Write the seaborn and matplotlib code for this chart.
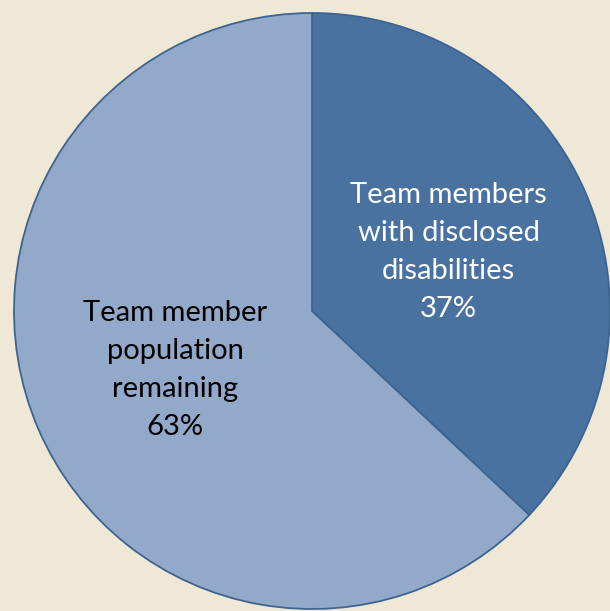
# Pie chart of team member disclosure share
import matplotlib
matplotlib.use("Agg")
import matplotlib.pyplot as plt
import seaborn as sns

sns.set_style("white")
plt.rcParams['font.family'] = ['Lato', 'DejaVu Sans']

categories = ["Team members\nwith disclosed\ndisabilities", "Team member\npopulation\nremaining"]
shares = [37, 63]
colors = ["#4A72A0", "#93A9CA"]
bg = "#F0E8D6"


def plot():
    fig = plt.figure(figsize=(6.10, 6.11), dpi=100, facecolor=bg)
    ax = fig.add_axes([0, 0, 1, 1])
    ax.set_facecolor(bg)

    labels = [f"{c}\n{s}%" for c, s in zip(categories, shares)]
    wedges, texts = ax.pie(
        shares, labels=labels, colors=colors, startangle=90, counterclock=False,
        labeldistance=0.5, radius=1,
        wedgeprops=dict(edgecolor="#3D6491", linewidth=1.3),
        textprops=dict(fontsize=21, linespacing=1.58),
    )
    for t, col in zip(texts, ["white", "black"]):
        t.set_horizontalalignment("center")
        t.set_verticalalignment("center")
        t.set_color(col)

    r = 298.0
    ax.set_xlim(-312 / r, (610 - 312) / r)
    ax.set_ylim(-(611 - 311) / r, 311 / r)
    ax.set_aspect("equal")
    ax.axis("off")

    fig.savefig("out.png", dpi=100, facecolor=bg)


if __name__ == "__main__":
    plot()
